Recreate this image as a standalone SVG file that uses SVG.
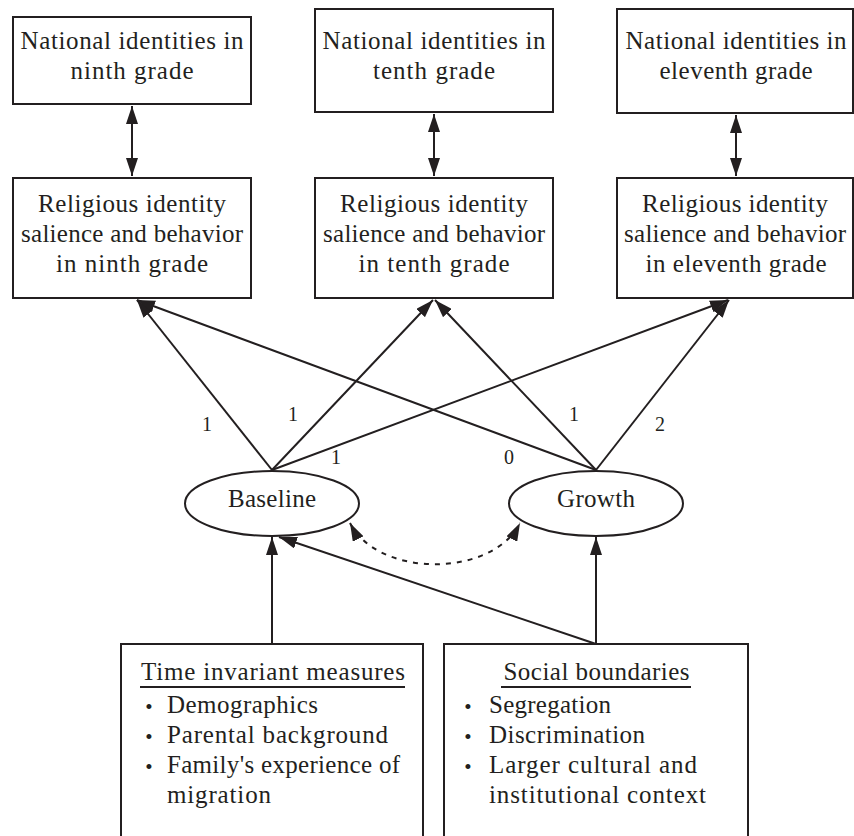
<svg xmlns="http://www.w3.org/2000/svg" width="854" height="836" viewBox="0 0 854 836">
<style>
  .box { fill: #ffffff; stroke: #231f20; stroke-width: 2; }
  .ell { fill: #ffffff; stroke: #231f20; stroke-width: 2; }
  .t { font-family: "Liberation Serif", "Times New Roman", serif; font-size: 25px; fill: #231f20; }
  .c { text-anchor: middle; }
  .lbl { font-family: "Liberation Serif", "Times New Roman", serif; font-size: 20px; fill: #231f20; text-anchor: middle; }
  .bul { font-family: "Liberation Serif", "Times New Roman", serif; font-size: 21px; fill: #231f20; text-anchor: middle; }
  .ln { fill: none; stroke: #231f20; stroke-width: 2; }
  .dash { fill: none; stroke: #231f20; stroke-width: 2; stroke-dasharray: 5 6; }
  .ul { stroke: #231f20; stroke-width: 2; }
</style>
<defs>
  <marker id="ah" markerUnits="userSpaceOnUse" markerWidth="18" markerHeight="12" refX="18" refY="6" orient="auto-start-reverse" viewBox="0 0 18 12">
    <path d="M0,0 L18,6 L0,12 z" fill="#231f20"/>
  </marker>
</defs>
<rect width="854" height="836" fill="#ffffff"/>

<g id="connectors">
  <line class="ln" x1="132" y1="106" x2="132" y2="176" marker-start="url(#ah)" marker-end="url(#ah)"/>
  <line class="ln" x1="434" y1="114" x2="434" y2="176" marker-start="url(#ah)" marker-end="url(#ah)"/>
  <line class="ln" x1="736" y1="115" x2="736" y2="176" marker-start="url(#ah)" marker-end="url(#ah)"/>
  <line class="ln" x1="272" y1="470" x2="137" y2="300" marker-end="url(#ah)"/>
  <line class="ln" x1="272" y1="470" x2="433" y2="300" marker-end="url(#ah)"/>
  <line class="ln" x1="272" y1="470" x2="728" y2="300" marker-end="url(#ah)"/>
  <line class="ln" x1="596" y1="470" x2="137" y2="300" marker-end="url(#ah)"/>
  <line class="ln" x1="596" y1="470" x2="435" y2="300" marker-end="url(#ah)"/>
  <line class="ln" x1="596" y1="470" x2="729" y2="300" marker-end="url(#ah)"/>
  <line class="ln" x1="272" y1="644" x2="272" y2="537" marker-end="url(#ah)"/>
  <line class="ln" x1="596" y1="644" x2="279" y2="537" marker-end="url(#ah)"/>
  <line class="ln" x1="596" y1="644" x2="596" y2="537" marker-end="url(#ah)"/>
  <path class="dash" d="M350,523 C378,578 492,578 520,523" marker-start="url(#ah)" marker-end="url(#ah)"/>
  <text class="lbl" x="207" y="431">1</text>
  <text class="lbl" x="293" y="421">1</text>
  <text class="lbl" x="336" y="464">1</text>
  <text class="lbl" x="509" y="464">0</text>
  <text class="lbl" x="574" y="421">1</text>
  <text class="lbl" x="660" y="431">2</text>
</g>

<g id="nat9">
  <rect class="box" x="13" y="17" width="238" height="87"/>
  <text class="t c" x="132" y="49" textLength="223" lengthAdjust="spacing">National identities in</text>
  <text class="t c" x="132" y="79" textLength="123" lengthAdjust="spacing">ninth grade</text>
</g>
<g id="nat10">
  <rect class="box" x="315" y="9" width="238" height="103"/>
  <text class="t c" x="434" y="49" textLength="223" lengthAdjust="spacing">National identities in</text>
  <text class="t c" x="434" y="79" textLength="122" lengthAdjust="spacing">tenth grade</text>
</g>
<g id="nat11">
  <rect class="box" x="617" y="9" width="236" height="104"/>
  <text class="t c" x="736" y="49" textLength="221" lengthAdjust="spacing">National identities in</text>
  <text class="t c" x="736" y="79" textLength="153" lengthAdjust="spacing">eleventh grade</text>
</g>

<g id="rel9">
  <rect class="box" x="13" y="178" width="238" height="120"/>
  <text class="t c" x="132" y="212" textLength="188" lengthAdjust="spacing">Religious identity</text>
  <text class="t c" x="132" y="242" textLength="222" lengthAdjust="spacing">salience and behavior</text>
  <text class="t c" x="132" y="272" textLength="152" lengthAdjust="spacing">in ninth grade</text>
</g>
<g id="rel10">
  <rect class="box" x="315" y="178" width="238" height="120"/>
  <text class="t c" x="434" y="212" textLength="188" lengthAdjust="spacing">Religious identity</text>
  <text class="t c" x="434" y="242" textLength="222" lengthAdjust="spacing">salience and behavior</text>
  <text class="t c" x="434" y="272" textLength="151" lengthAdjust="spacing">in tenth grade</text>
</g>
<g id="rel11">
  <rect class="box" x="617" y="178" width="236" height="120"/>
  <text class="t c" x="735" y="212" textLength="186" lengthAdjust="spacing">Religious identity</text>
  <text class="t c" x="735" y="242" textLength="222" lengthAdjust="spacing">salience and behavior</text>
  <text class="t c" x="736" y="272" textLength="181" lengthAdjust="spacing">in eleventh grade</text>
</g>

<g id="baseline">
  <ellipse class="ell" cx="272" cy="503.5" rx="87" ry="32.5"/>
  <text class="t c" x="272" y="507" textLength="88" lengthAdjust="spacing">Baseline</text>
</g>
<g id="growth">
  <ellipse class="ell" cx="596" cy="503.5" rx="87" ry="32.5"/>
  <text class="t c" x="596" y="507" textLength="78" lengthAdjust="spacing">Growth</text>
</g>

<g id="timeinvariant">
  <rect class="box" x="121" y="644" width="302" height="210"/>
  <text class="t c" x="273" y="680" textLength="264" lengthAdjust="spacing">Time invariant measures</text>
  <line class="ul" x1="140" y1="687" x2="405" y2="687"/>
  <text class="bul" x="149" y="714">•</text>
  <text class="bul" x="149" y="744">•</text>
  <text class="bul" x="149" y="774">•</text>
  <text class="t" x="167" y="713" textLength="151" lengthAdjust="spacing">Demographics</text>
  <text class="t" x="167" y="743" textLength="221" lengthAdjust="spacing">Parental background</text>
  <text class="t" x="167" y="773" textLength="233" lengthAdjust="spacing">Family's experience of</text>
  <text class="t" x="167" y="803" textLength="104" lengthAdjust="spacing">migration</text>
</g>
<g id="socialboundaries">
  <rect class="box" x="444" y="644" width="304" height="210"/>
  <text class="t c" x="596.5" y="680" textLength="186" lengthAdjust="spacing">Social boundaries</text>
  <line class="ul" x1="501" y1="687" x2="691" y2="687"/>
  <text class="bul" x="468" y="714">•</text>
  <text class="bul" x="468" y="744">•</text>
  <text class="bul" x="468" y="774">•</text>
  <text class="t" x="489" y="713" textLength="122" lengthAdjust="spacing">Segregation</text>
  <text class="t" x="489" y="743" textLength="156" lengthAdjust="spacing">Discrimination</text>
  <text class="t" x="489" y="773" textLength="208" lengthAdjust="spacing">Larger cultural and</text>
  <text class="t" x="489" y="803" textLength="217" lengthAdjust="spacing">institutional context</text>
</g>
</svg>
